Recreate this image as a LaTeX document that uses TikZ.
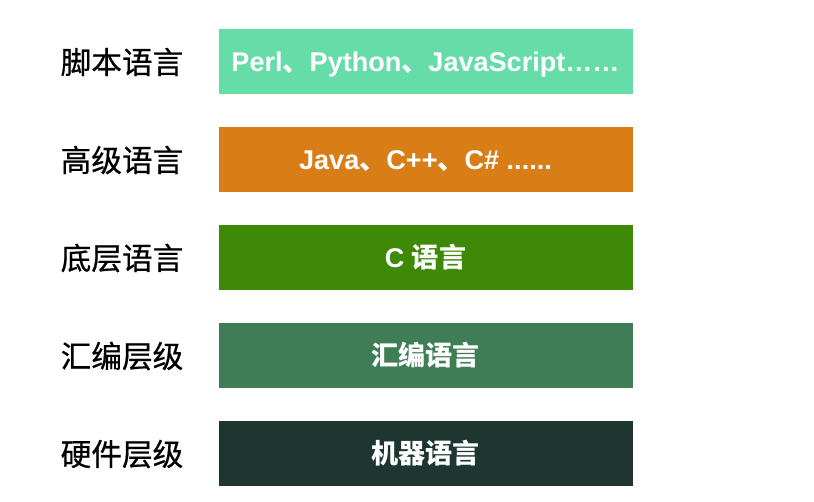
\documentclass[tikz,border=0pt]{standalone}
\usepackage{fontspec}
\setmainfont{Liberation Sans}
\newfontfamily\cjk{Noto Sans CJK SC}
\newfontfamily\cjkmed{Noto Sans CJK SC}[FakeBold=0.6]
\definecolor{cA}{HTML}{66DCA8}
\definecolor{cB}{HTML}{D97E16}
\definecolor{cC}{HTML}{3E8A07}
\definecolor{cD}{HTML}{3E7D55}
\definecolor{cE}{HTML}{1F3630}
\begin{document}
\begin{tikzpicture}[x=0.75pt,y=-0.75pt,
  layer/.style={minimum width=310.5pt,minimum height=48.75pt,inner sep=0pt,text height=15pt,text depth=0pt,text=white,font=\fontsize{20.3}{21}\selectfont\bfseries},
  lab/.style={anchor=center,inner sep=0pt,font=\cjkmed\fontsize{23}{24}\selectfont}]
\useasboundingbox (0,0) rectangle (814,501);
\node[layer,fill=cA] (b1) at (425.5,61.5) {Perl{\cjk 、}Python{\cjk 、}JavaScript……};
\node[layer,fill=cB] (b2) at (425.5,159.5) {Java{\cjk 、}C++{\cjk 、}C\# ......};
\node[layer,fill=cC] (b3) at (425.5,257.5) {C {\cjk 语言}};
\node[layer,fill=cD] (b4) at (425.5,355.5) {\cjk 汇编语言};
\node[layer,fill=cE] (b5) at (425.5,453.5) {\cjk 机器语言};
\node[lab] (l1) at (122,62) {脚本语言};
\node[lab] (l2) at (122,160) {高级语言};
\node[lab] (l3) at (122,258) {底层语言};
\node[lab] (l4) at (122,356) {汇编层级};
\node[lab] (l5) at (122,454) {硬件层级};
\end{tikzpicture}
\end{document}
